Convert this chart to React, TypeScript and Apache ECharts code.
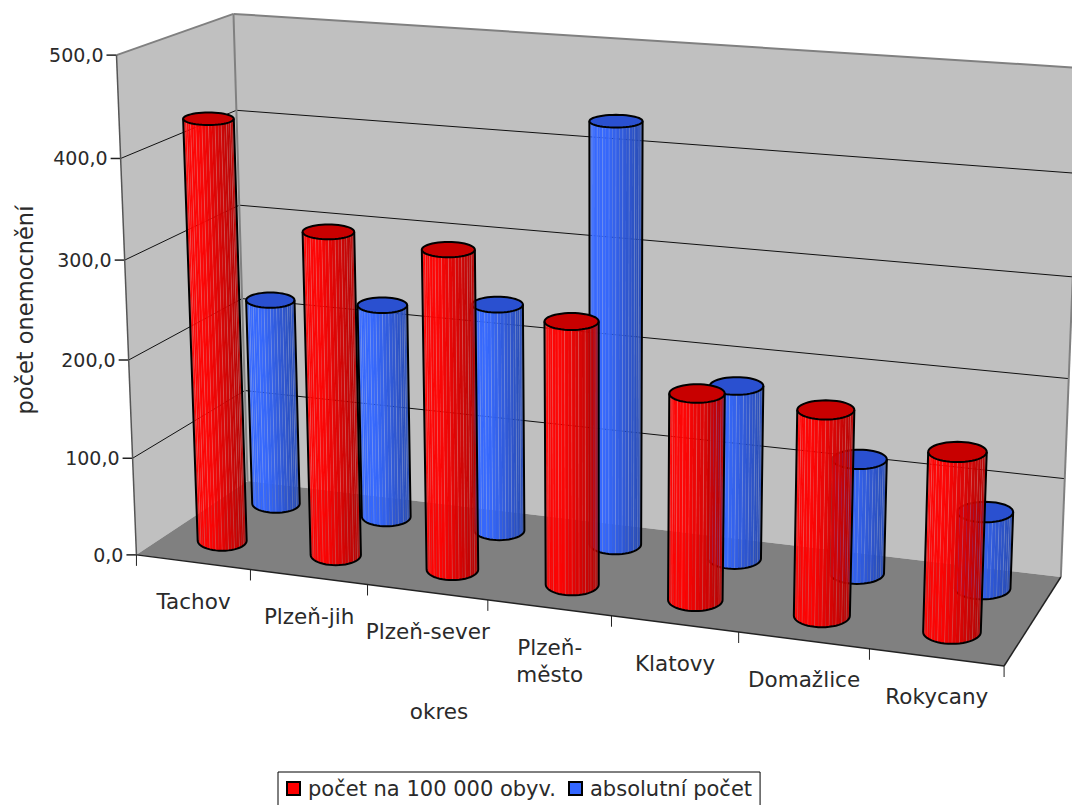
import React, { useEffect, useRef } from "react";
import * as echarts from "echarts";

const categories = ["Tachov", "Plzeň-jih", "Plzeň-sever", "Plzeň-\nměsto", "Klatovy", "Domažlice", "Rokycany"];
const ratePer100k = [430, 328, 321, 262, 204, 201, 174];
const absoluteCount = [218, 224, 236, 430, 177, 116, 77];
const valueTicks = [0, 100, 200, 300, 400, 500];
const rateName = "počet na 100 000 obyv.";
const countName = "absolutní počet";
const FONT = "'DejaVu Sans'";
const TICK_FS = 19;
const CAT_FS = 21.5;
const LEGEND_FS = 21;
const TITLE_FS = 22.5;
const INK = "#2a2a2a";

// Corners of the chart box: [x, depth, height] to screen position.
const boxCorners: number[][][] = [
  [[0, 0, 0], [137, 555]],
  [[1, 0, 0], [1004, 666]],
  [[0, 1, 0], [247, 481]],
  [[1, 1, 0], [1061, 577]],
  [[0, 0, 1], [116, 55]],
  [[0, 1, 1], [234, 14]],
  [[1, 1, 1], [1081, 68]],
];

// Least-squares fit of a 3x4 projective camera to the box corners.
function fitCamera(pairs: number[][][]) {
  const A: number[][] = [];
  const b: number[] = [];
  for (const [[X, Y, Z], [u, v]] of pairs) {
    A.push([X, Y, Z, 1, 0, 0, 0, 0, -u * X, -u * Y, -u * Z]);
    b.push(u);
    A.push([0, 0, 0, 0, X, Y, Z, 1, -v * X, -v * Y, -v * Z]);
    b.push(v);
  }
  const n = 11;
  const M = Array.from({ length: n }, (_, r) => {
    const row = new Array(n + 1).fill(0);
    for (let c = 0; c < n; c++) for (let k = 0; k < A.length; k++) row[c] += A[k][r] * A[k][c];
    for (let k = 0; k < A.length; k++) row[n] += A[k][r] * b[k];
    return row;
  });
  for (let i = 0; i < n; i++) {
    let p = i;
    for (let r = i + 1; r < n; r++) if (Math.abs(M[r][i]) > Math.abs(M[p][i])) p = r;
    [M[i], M[p]] = [M[p], M[i]];
    for (let r = 0; r < n; r++) {
      if (r === i) continue;
      const f = M[r][i] / M[i][i];
      for (let c = i; c <= n; c++) M[r][c] -= f * M[i][c];
    }
  }
  return M.map((row, i) => row[n] / row[i]);
}

const cam = fitCamera(boxCorners);
function project(x: number, d: number, h: number): number[] {
  const w = cam[8] * x + cam[9] * d + cam[10] * h + 1;
  return [
    (cam[0] * x + cam[1] * d + cam[2] * h + cam[3]) / w,
    (cam[4] * x + cam[5] * d + cam[6] * h + cam[7]) / w,
  ];
}

const GRID_LINE = { stroke: "#111", lineWidth: 1, fill: "none" };

function frameItem(params: any, api: any) {
  const cs = params.coordSys;
  const heightOf = (v: number) => (cs.y + cs.height - api.coord([0, v])[1]) / cs.height;
  const kids: any[] = [];
  const poly = (pts: number[][], fill: string) =>
    kids.push({ type: "polygon", shape: { points: pts }, style: { fill, stroke: "none" } });
  const line = (a: number[], b: number[], style: any) =>
    kids.push({ type: "line", shape: { x1: a[0], y1: a[1], x2: b[0], y2: b[1] }, style });
  const WALL = { stroke: "#808080", lineWidth: 2 };
  const AXIS = { stroke: "#222", lineWidth: 1.5 };

  poly([project(0, 0, 0), project(0, 1, 0), project(0, 1, 1), project(0, 0, 1)], "#c0c0c0");
  poly([project(0, 1, 0), project(1, 1, 0), project(1, 1, 1), project(0, 1, 1)], "#c0c0c0");
  poly([project(0, 0, 0), project(1, 0, 0), project(1, 1, 0), project(0, 1, 0)], "#808080");

  // Horizontal gridlines run along the left wall and the back wall.
  for (const v of valueTicks) {
    const h = heightOf(v);
    if (v > 0 && v < 500) {
      line(project(0, 0, h), project(0, 1, h), GRID_LINE);
      line(project(0, 1, h), project(1, 1, h), GRID_LINE);
    }
    const p = project(0, 0, h);
    line([p[0] - 10, p[1]], p, AXIS);
    kids.push({
      type: "text",
      x: p[0] - 13,
      y: p[1],
      style: {
        text: v.toFixed(1).replace(".", ","),
        fill: INK,
        font: `${TICK_FS}px ${FONT}`,
        textAlign: "right",
        textVerticalAlign: "middle",
      },
    });
  }
  line(project(0, 0, 1), project(0, 1, 1), WALL);
  line(project(0, 1, 1), project(1, 1, 1), WALL);
  line(project(0, 1, 0), project(0, 1, 1), WALL);
  line(project(1, 1, 0), project(1, 1, 1), WALL);
  line(project(0, 0, 0), project(0, 0, 1), { stroke: "#555", lineWidth: 1.5 });
  line(project(0, 0, 0), project(1, 0, 0), AXIS);
  line(project(1, 0, 0), project(1, 1, 0), AXIS);

  const n = categories.length;
  for (let k = 0; k <= n; k++) {
    const p = project(k / n, 0, 0);
    line(p, [p[0], p[1] + 11], { stroke: "#222", lineWidth: 1 });
  }
  categories.forEach((name, i) => {
    const p = project((i + 0.5) / n, 0, 0);
    kids.push({
      type: "text",
      x: p[0] + 0.5,
      y: p[1] + 26,
      style: {
        text: name,
        fill: INK,
        font: `${CAT_FS}px ${FONT}`,
        textAlign: "center",
        textVerticalAlign: "top",
        lineHeight: 27,
      },
    });
  });
  return { type: "group", children: kids };
}

const RING = 48;
const RADIUS_X = 0.0312;
const RADIUS_D = 0.13;
const COLUMN_NUDGE = -0.002;

// A horizontal screen ellipse whose size follows the camera at that spot.
function ringAt(x: number, d: number, h: number): number[][] {
  const c = project(x, d, h);
  const rx = Math.abs(project(x + RADIUS_X, d, h)[0] - project(x - RADIUS_X, d, h)[0]) / 2;
  const ry = Math.abs(project(x, d + RADIUS_D, h)[1] - project(x, d - RADIUS_D, h)[1]) / 2;
  const pts: number[][] = [];
  for (let i = 0; i < RING; i++) {
    const t = (i / RING) * Math.PI * 2;
    pts.push([c[0] + rx * Math.cos(t), c[1] + ry * Math.sin(t)]);
  }
  return pts;
}

function cylinderItem(depth: number, base: number[], topFill: string) {
  return (params: any, api: any) => {
    const cs = params.coordSys;
    const top = api.coord([api.value(0), api.value(1)]);
    const x = (top[0] - cs.x) / cs.width + COLUMN_NUDGE;
    const h = (cs.y + cs.height - top[1]) / cs.height;
    const low = ringAt(x, depth, 0);
    const high = ringAt(x, depth, h);
    const half = RING / 2;
    const kids: any[] = [];
    // Front half only: index 0 is the right side, index half the left side.
    for (let i = 0; i < half; i++) {
      const s = 1 - (i + 0.5) / half;
      const across = (1 - Math.cos(s * Math.PI)) / 2;
      const k = across < 0.3 ? 1 : 1 - ((across - 0.3) / 0.7) * 0.3;
      const fill = `rgb(${Math.round(base[0] * k)},${Math.round(base[1] * k)},${Math.round(base[2] * k)})`;
      kids.push({
        type: "polygon",
        shape: { points: [low[i], low[i + 1], high[i + 1], high[i]] },
        style: { fill, opacity: 0.97, stroke: "none" },
      });
      if (i > 0 && i % 2 === 0) {
        kids.push({
          type: "line",
          shape: { x1: low[i][0], y1: low[i][1], x2: high[i][0], y2: high[i][1] },
          style: { stroke: "#fff", opacity: 0.14, lineWidth: 1 },
        });
      }
    }
    const OUT = { stroke: "#000", lineWidth: 2, fill: "none" };
    kids.push({ type: "polygon", shape: { points: high }, style: { fill: topFill, stroke: "#000", lineWidth: 2 } });
    const arc: number[][] = [high[0]];
    for (let i = 0; i <= half; i++) arc.push(low[i]);
    arc.push(high[half]);
    kids.push({ type: "polyline", shape: { points: arc }, style: OUT });
    return { type: "group", children: kids };
  };
}

const seriesData = (values: number[]) => values.map((v, i) => [i, v]);

function buildOption() {
  return {
    animation: false,
    backgroundColor: "#fff",
    grid: { left: 0, top: 0, width: 1000, height: 1000, show: false },
    xAxis: { type: "category", data: categories, show: false },
    yAxis: { type: "value", min: 0, max: 500, interval: 100, show: false },
    legend: {
      left: 278,
      top: 772,
      data: [rateName, countName],
      selectedMode: false,
      icon: "rect",
      itemWidth: 13,
      itemHeight: 13,
      itemGap: 12,
      itemStyle: { borderColor: "#000", borderWidth: 2 },
      textStyle: { fontFamily: FONT, fontSize: LEGEND_FS, color: INK, padding: [2, 0, 0, 3] },
      borderColor: "#000",
      borderWidth: 1,
      backgroundColor: "#fff",
      padding: [6, 8, 14, 8],
    },
    graphic: [
      {
        type: "text",
        x: 25,
        y: 310,
        rotation: Math.PI / 2,
        style: { text: "počet onemocnění", font: `${TITLE_FS}px ${FONT}`, fill: INK, textAlign: "center", textVerticalAlign: "middle" },
      },
      {
        type: "text",
        x: 439,
        y: 711,
        style: { text: "okres", font: `${CAT_FS}px ${FONT}`, fill: INK, textAlign: "center", textVerticalAlign: "middle" },
      },
    ],
    series: [
      { type: "custom", name: "frame", silent: true, renderItem: frameItem, data: [[0, 0]], clip: false },
      {
        type: "custom",
        name: countName,
        renderItem: cylinderItem(0.77, [51, 102, 255], "#2a50d0"),
        data: seriesData(absoluteCount),
        itemStyle: { color: "#3366ff" },
        clip: false,
      },
      {
        type: "custom",
        name: rateName,
        renderItem: cylinderItem(0.27, [255, 0, 0], "#c80000"),
        data: seriesData(ratePer100k),
        itemStyle: { color: "#ff0000" },
        clip: false,
      },
    ],
  };
}

export default function App() {
  const ref = useRef<HTMLDivElement>(null);
  useEffect(() => {
    const chart = echarts.init(ref.current!, undefined, { renderer: "svg" });
    chart.setOption(buildOption() as any);
    return () => chart.dispose();
  }, []);
  return <div ref={ref} style={{ position: "fixed", left: 0, top: 0, width: 1072, height: 805, overflow: "hidden" }} />;
}
